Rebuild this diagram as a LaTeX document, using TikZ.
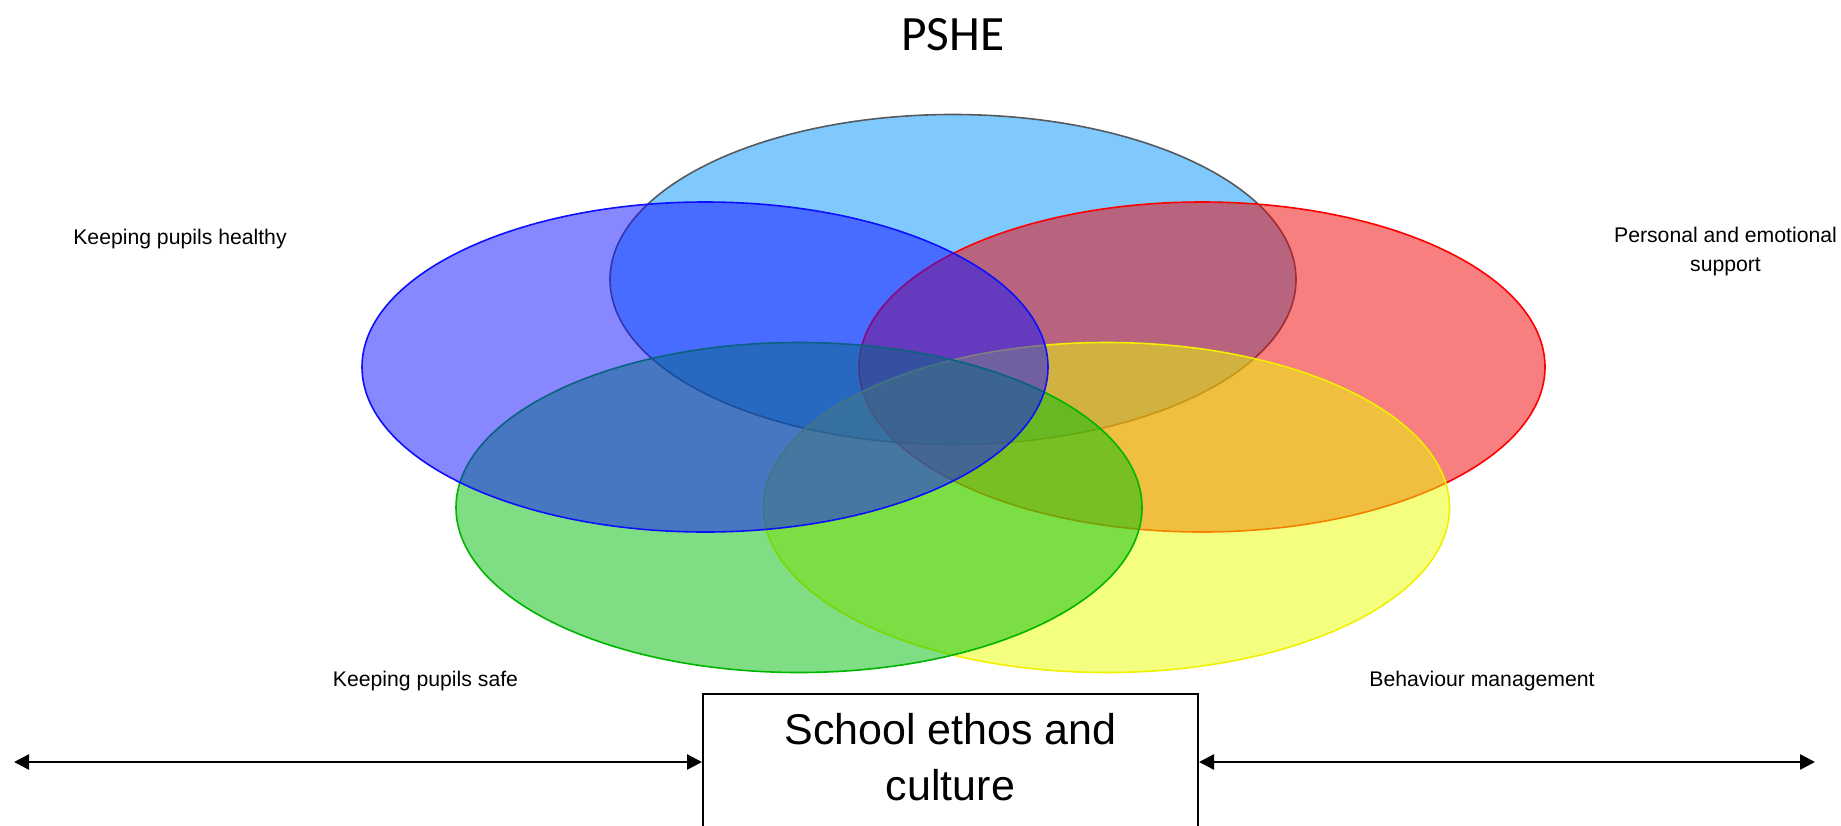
\documentclass[tikz,border=0pt]{standalone}
\usepackage{fontspec}
\setmainfont{Liberation Sans}
\newfontfamily\carlitofont{Carlito}
\usetikzlibrary{shapes.geometric,arrows.meta}
\definecolor{lbfill}{RGB}{0,149,255}
\definecolor{lbdraw}{RGB}{85,90,95}
\definecolor{blfill}{RGB}{17,17,255}
\definecolor{bldraw}{RGB}{15,15,255}
\definecolor{rdfill}{RGB}{242,0,0}
\definecolor{rddraw}{RGB}{255,0,0}
\definecolor{grfill}{RGB}{1,191,11}
\definecolor{grdraw}{RGB}{0,180,0}
\definecolor{ylfill}{RGB}{235,255,0}
\definecolor{yldraw}{RGB}{240,240,0}
\begin{document}
\begin{tikzpicture}[x=0.5pt,y=-0.5pt,
  venn/.style={ellipse, draw, line width=0.8pt, minimum width=343pt, minimum height=165pt, inner sep=0pt, fill opacity=0.5, draw opacity=1},
  lbl/.style={font=\fontsize{10.6pt}{14.5pt}\selectfont, inner sep=0pt},
  twoarrow/.style={{Triangle[length=7.5pt,width=7.5pt]}-{Triangle[length=7.5pt,width=7.5pt]}, line width=1.25pt}]
\useasboundingbox (0,0) rectangle (1841,825);
\clip (0,0) rectangle (1841,825);
\fill[white] (0,0) rectangle (1841,825);
% ellipses (bottom to top)
\node[venn, draw=lbdraw, fill=lbfill] (lb) at (953,279.5) {};
\node[venn, draw=rddraw, fill=rdfill] (rd) at (1202,367) {};
\node[venn, draw=yldraw, fill=ylfill] (yl) at (1106.5,507.5) {};
\node[venn, draw=grdraw, fill=grfill] (gr) at (799,507.5) {};
\node[venn, draw=bldraw, fill=blfill] (bl) at (705,367) {};
% title
\node[font=\carlitofont\fontsize{24.7pt}{30pt}\selectfont, anchor=base, inner sep=0pt] (title) at (953,50) {PSHE};
% labels
\node[lbl, anchor=base] (healthy) at (180,244) {Keeping pupils healthy};
\node[lbl, anchor=north, align=center] (personal) at (1725.5,227) {Personal and emotional\\support};
\node[lbl, anchor=base] (safe) at (425.5,686) {Keeping pupils safe};
\node[lbl, anchor=base] (behaviour) at (1482,686) {Behaviour management};
% box
\node[draw, line width=1pt, minimum width=247.5pt, minimum height=90pt, anchor=north, inner sep=0pt] (box) at (950.5,693) {};
\node[anchor=north, align=center, inner sep=0pt, font=\fontsize{21.5pt}{28pt}\selectfont] (boxtext) at (950.5,713) {School ethos and\\culture};
% arrows
\coordinate (ltip) at (14,762);
\coordinate (rtip) at (1815,762);
\draw[twoarrow] (ltip) -- (ltip -| box.west);
\draw[twoarrow] (rtip -| box.east) -- (rtip);
\end{tikzpicture}
\end{document}
